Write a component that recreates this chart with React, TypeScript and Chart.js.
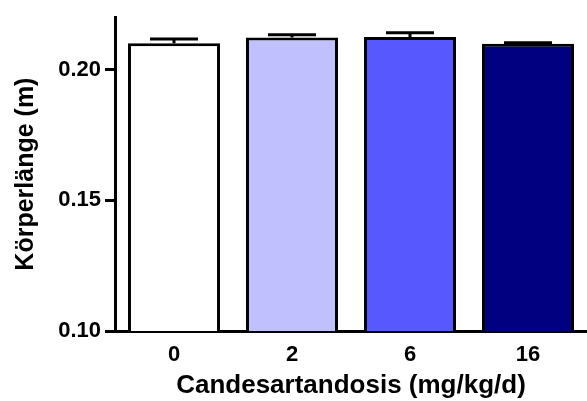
import React, { useEffect, useRef } from "react";
import { Chart, registerables } from "chart.js";

Chart.register(...registerables);

const categories = ["0", "2", "6", "16"];
const means = [0.21, 0.2122, 0.2124, 0.2098];
const sems = [0.0017, 0.0011, 0.0017, 0.0004];
const barColors = ["#ffffff", "#c0c0ff", "#5858ff", "#000080"];
const yTicks = [0.1, 0.15, 0.2];
const yMin = 0.1;
const yMax = 0.22;
const xTitle = "Candesartandosis (mg/kg/d)";
const yTitle = "Körperlänge (m)";

const FONT = "'Liberation Sans', Arial, Helvetica, sans-serif";

const errorBarPlugin = {
  id: "errorBars",
  afterDatasetsDraw(chart: any) {
    const ctx = chart.ctx;
    const yScale = chart.scales.y;
    const meta = chart.getDatasetMeta(0);
    ctx.save();
    ctx.strokeStyle = "#000";
    ctx.lineWidth = 3;
    meta.data.forEach((el: any, i: number) => {
      const x = el.x;
      const yTop = yScale.getPixelForValue(means[i]);
      const yErr = yScale.getPixelForValue(means[i] + sems[i]);
      const half = 24;
      ctx.beginPath();
      ctx.moveTo(x, yTop);
      ctx.lineTo(x, yErr);
      ctx.moveTo(x - half, yErr);
      ctx.lineTo(x + half, yErr);
      ctx.stroke();
    });
    ctx.restore();
  },
};

export default function App() {
  const ref = useRef<HTMLCanvasElement | null>(null);
  useEffect(() => {
    if (!ref.current) return;
    const chart = new Chart(ref.current, {
      type: "bar",
      data: {
        labels: categories,
        datasets: [
          {
            data: means,
            backgroundColor: barColors,
            borderColor: "#000",
            borderWidth: 3,
            borderSkipped: false,
            barPercentage: 0.78,
            categoryPercentage: 1,
          },
        ],
      },
      options: {
        animation: false,
        responsive: true,
        maintainAspectRatio: false,
        layout: { padding: { top: 16, right: 0, left: 0, bottom: 0 } },
        plugins: {
          legend: { display: false },
          tooltip: { enabled: false },
        },
        scales: {
          x: {
            offset: true,
            grid: { display: false, drawTicks: false },
            border: { display: true, color: "#000", width: 3 },
            ticks: {
              color: "#000",
              padding: 11,
              font: { family: FONT, size: 22, weight: "bold" },
            },
            title: {
              display: true,
              text: xTitle,
              color: "#000",
              padding: { top: 0, bottom: 0 },
              font: { family: FONT, size: 26, weight: "bold" },
            },
            afterFit(scale: any) {
              scale.height = 70;
            },
          },
          y: {
            min: yMin,
            max: yMax,
            grid: {
              drawOnChartArea: false,
              drawTicks: true,
              tickLength: 10,
              color: "#000",
              lineWidth: 3,
            },
            border: { display: true, color: "#000", width: 3 },
            afterBuildTicks(scale: any) {
              scale.ticks = yTicks.map((v) => ({ value: v }));
            },
            ticks: {
              color: "#000",
              padding: 4,
              font: { family: FONT, size: 22, weight: "bold" },
              callback: (v: any) => Number(v).toFixed(2),
            },
            title: {
              display: true,
              text: yTitle,
              color: "#000",
              padding: { top: 11, bottom: 0 },
              font: { family: FONT, size: 25, weight: "bold" },
            },
            afterFit(scale: any) {
              scale.width = 115;
            },
          },
        },
      },
      plugins: [errorBarPlugin],
    } as any);
    return () => chart.destroy();
  }, []);
  return (
    <div style={{ position: "fixed", left: 0, top: 0, width: 587, height: 401, background: "#fff" }}>
      <canvas ref={ref} />
    </div>
  );
}
